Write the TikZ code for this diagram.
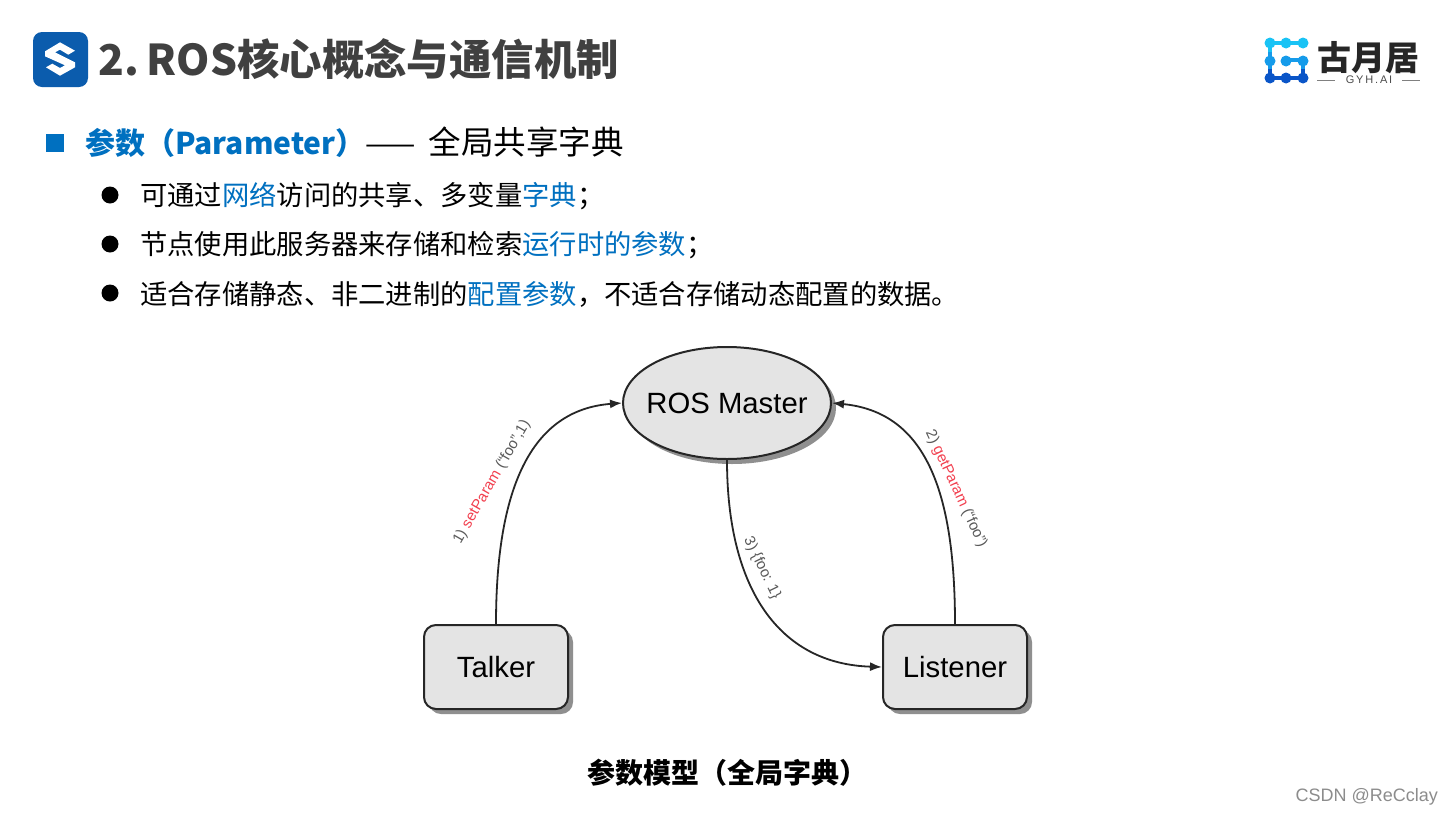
\documentclass[tikz,border=0pt]{standalone}
\usepackage{fontspec}
\usepackage{xcolor}
\usetikzlibrary{arrows.meta}
\usetikzlibrary{shapes}
\usetikzlibrary{shadows}
\setmainfont{Noto Sans CJK SC}
\newfontfamily\diagfont{Liberation Sans}
\definecolor{slideblue}{HTML}{0070C0}
\definecolor{titlegray}{HTML}{404040}
\definecolor{boxgray}{HTML}{E4E4E4}
\definecolor{paramred}{HTML}{F2404F}
\definecolor{logotop}{HTML}{19C3F5}
\definecolor{logomid}{HTML}{159BEA}
\definecolor{logolow}{HTML}{0A55C8}
\tikzset{
  title/.style={anchor=west, inner sep=0pt, text=titlegray, font=\fontsize{42.4}{42}\selectfont\bfseries},
  heading/.style={anchor=west, inner sep=0pt, font=\fontsize{30}{30}\selectfont},
  item/.style={anchor=west, inner sep=0pt, font=\fontsize{27.3}{27}\selectfont},
  dot/.style={circle, fill=black, inner sep=0pt, minimum size=17pt},
  actor/.style={draw=black!85, line width=2pt, fill=boxgray, rounded corners=12pt, minimum width=144pt, minimum height=84pt,
    font=\diagfont\fontsize{29.3}{30}\selectfont, drop shadow={shadow xshift=5pt, shadow yshift=-5pt, fill=black!55, opacity=0.8}},
  flow/.style={-{Latex[length=12pt,width=9pt]}, line width=1.8pt, black!85},
  edgelabel/.style={inner sep=0pt, text=black!65, font=\diagfont\fontsize{15}{15}\selectfont},
  logolink/.style={line width=4.5pt},
}
\begin{document}
\begin{tikzpicture}[x=1pt, y=-1pt]
  \useasboundingbox (0,0) rectangle (1454,817);
  \fill[white] (0,0) rectangle (1454,817);

  % title bar
  \fill[rounded corners=9pt, fill={rgb,255:red,11;green,92;blue,173}] (33,32) rectangle (88,87);
  \fill[white] (45,51.3) -- (60,42.3) -- (75,50.7) -- (68.3,54.7) -- (60,49.7) -- (55,52.3) -- (75,62.3) -- (75,67.3)
    -- (60,75.7) -- (46,67.3) -- (52.3,63.7) -- (60,68) -- (65,65.3) -- (45,56.3) -- cycle;
  \node[title] (title) at (98,59) {2.\hspace{0.19em}ROS核心概念与通信机制};

  % logo
  \draw[logolink, logotop] (1303,43) -- (1270,43) -- (1270,52);
  \draw[logolink, logomid] (1270,52) -- (1270,69);
  \draw[logolink, logomid] (1286,60) -- (1303,60) -- (1303,69);
  \draw[logolink, logolow] (1270,69) -- (1270,78) -- (1303,78) -- (1303,69);
  \foreach \x in {1270,1286,1303}
    \fill[logotop] (\x,43) circle (5.5pt);
  \foreach \x in {1270,1286,1303}
    \fill[logomid] (\x,61) circle (5.5pt);
  \foreach \x in {1270,1286,1303}
    \fill[logolow] (\x,78) circle (5.5pt);
  \node[inner sep=0pt, text=black!85, font=\fontsize{34}{34}\selectfont\bfseries] (logotext) at (1368,58) {古月居};
  \node[inner sep=0pt, text=black!70, font=\diagfont\fontsize{11}{11}\selectfont] (logosub) at (1369,80) {G\,Y\,H\,.\,A\,I};
  \draw[black!50, line width=0.8pt] (1317,80) -- (1335,80);
  \draw[black!50, line width=0.8pt] (1402,80) -- (1420,80);

  % text lines
  \fill[slideblue] (46,134) rectangle (64,152);
  \node[heading] (head) at (85,142) {\textcolor{slideblue}{\bfseries 参数（Parameter）}——\hspace{0.43em}{\fontsize{32.5}{30}\selectfont 全局共享字典}};
  \node[dot] (dota) at (110,195) {};
  \node[item] (linea) at (140,196) {可通过\textcolor{slideblue}{网络}访问的共享、多变量\textcolor{slideblue}{字典}；};
  \node[dot] (dotb) at (110,244) {};
  \node[item] (lineb) at (140,245) {节点使用此服务器来存储和检索\textcolor{slideblue}{运行时的参数}；};
  \node[dot] (dotc) at (110,293) {};
  \node[item] (linec) at (140,294) {适合存储静态、非二进制的\textcolor{slideblue}{配置参数}，不适合存储动态配置的数据。};

  % diagram
  \node[ellipse, actor, inner xsep=-8pt, minimum width=208pt, minimum height=112pt] (master) at (727,403) {ROS Master};
  \node[actor] (talker) at (496,667) {Talker};
  \node[actor] (listener) at (955,667) {Listener};
  \draw[flow] (talker.north) .. controls (496,490) and (530,410) .. (master.west);
  \draw[flow] (listener.north) .. controls (955,490) and (925,412) .. (master.east);
  \draw[flow] (master.south) .. controls (727,590) and (780,664) .. (listener.west);
  \node[edgelabel, rotate=60] (seta) at (492,482) {1) \textcolor{paramred}{setParam} (“foo”,1)};
  \node[edgelabel, rotate=-65] (geta) at (956,489) {2) \textcolor{paramred}{getParam} (“foo”)};
  \node[edgelabel, rotate=-64] (reply) at (762,568) {3) \{foo: 1\}};

  \node[inner sep=0pt, font=\fontsize{28}{28}\selectfont\bfseries] (caption) at (727,773) {参数模型（全局字典）};
  \node[inner sep=0pt, anchor=east, text=black!45, font=\diagfont\fontsize{18}{18}\selectfont] (mark) at (1438,797) {CSDN @ReCclay};
\end{tikzpicture}
\end{document}
